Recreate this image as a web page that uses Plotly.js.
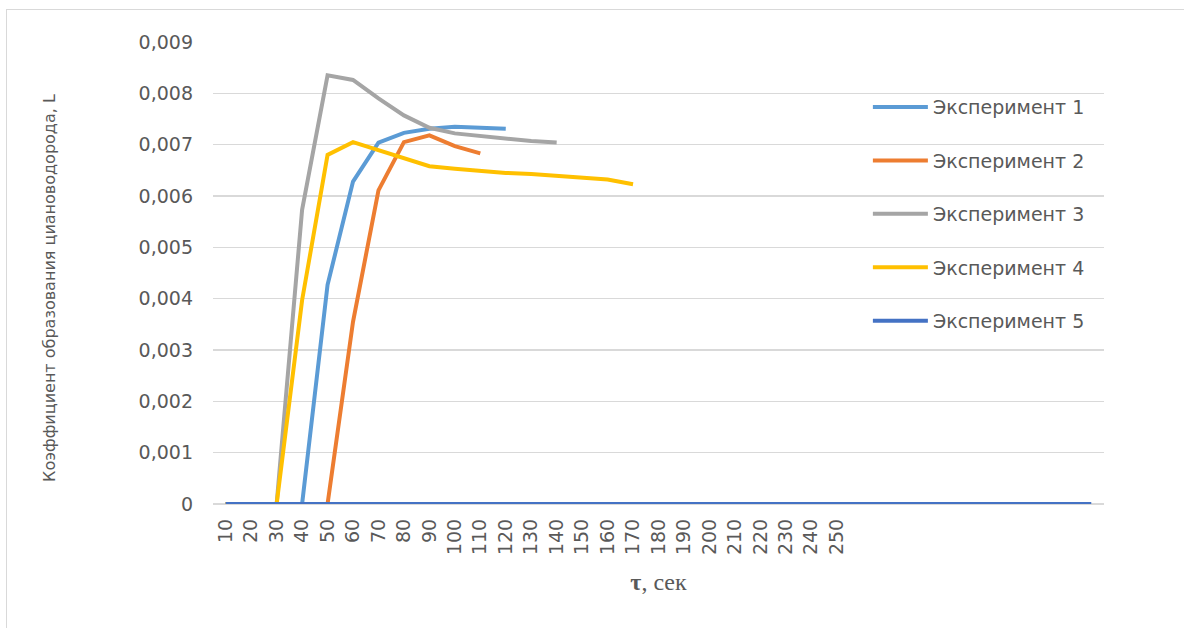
<!DOCTYPE html>
<html>
<head>
<meta charset="utf-8">
<script src="https://cdn.plot.ly/plotly-3.0.1.min.js"></script>
<style>
html,body{margin:0;padding:0;background:#fff;overflow:hidden;}
#wrap{position:relative;width:1184px;height:628px;}
#chart{position:absolute;left:0;top:0;width:1184px;height:628px;}
#frame{position:absolute;left:6px;top:9px;width:1300px;height:700px;border:1.5px solid #d9d9d9;pointer-events:none;}
</style>
</head>
<body>
<div id="wrap">
<div id="frame"></div>
<div id="chart"></div>
</div>
<script>
// Time categories, s
const timeCats = [10,20,30,40,50,60,70,80,90,100,110,120,130,140,150,160,170,180,190,200,210,220,230,240,250,260,270,280,290,300,310,320,330,340,350];
const tickVals = [10,20,30,40,50,60,70,80,90,100,110,120,130,140,150,160,170,180,190,200,210,220,230,240,250];
const tickLabels = ["10","20","30","40","50","60","70","80","90","100","110","120","130","140","150","160","170","180","190","200","210","220","230","240","250"];

const seriesNames = ["Эксперимент 1","Эксперимент 2","Эксперимент 3","Эксперимент 4","Эксперимент 5"];
const exp1 = [0,0,0,0,0.00427,0.00628,0.00704,0.00723,0.00731,0.00735,0.00733,0.00731];
const exp2 = [0,0,0,0,0,0.00355,0.00611,0.00705,0.00718,0.00697,0.00683];
const exp3 = [0,0,0,0.00573,0.00835,0.00826,0.00790,0.00757,0.00733,0.00722,0.00717,0.00712,0.00707,0.00704];
const exp4 = [0,0,0,0.00397,0.00680,0.00705,0.00689,0.00673,0.00658,0.00653,0.00649,0.00645,0.00643,0.00639,0.00636,0.00632,0.00623];
const exp5 = [0,0,0,0,0,0,0,0,0,0,0,0,0,0,0,0,0,0,0,0,0,0,0,0,0,0,0,0,0,0,0,0,0,0,0];

const yTickVals = [0,0.001,0.002,0.003,0.004,0.005,0.006,0.007,0.008,0.009];
const yTickLabels = ["0","0,001","0,002","0,003","0,004","0,005","0,006","0,007","0,008","0,009"];
const yTitle = 'Коэффициент образования циановодорода, L';
const xTitle = '<b>τ</b>, сек';

const colors = ["#5B9BD5","#ED7D31","#A5A5A5","#FFC000","#4472C4"];
const allSeries = [exp1,exp2,exp3,exp4,exp5];

const traces = allSeries.map((vals,i)=>({
  type:'scatter',
  mode:'lines',
  name:seriesNames[i],
  legendgroup:'g'+i,
  x:timeCats.slice(0,vals.length),
  y:vals,
  line:{color:colors[i],width:4,shape:'linear'},
  hoverinfo:'skip'
}));

const tickFont = {family:'"DejaVu Sans", sans-serif', size:19, color:'#595959'};

const layout = {
  width:1184, height:628,
  paper_bgcolor:'rgba(0,0,0,0)',
  plot_bgcolor:'rgba(0,0,0,0)',
  margin:{l:213, r:80, t:42, b:124},
  showlegend:true,
  legend:{
    x:0.735, xanchor:'left', y:0.90, yanchor:'top',
    font:{family:'"DejaVu Sans", sans-serif', size:19, color:'#595959'},
    traceorder:'grouped', tracegroupgap:25.7,
    bgcolor:'rgba(0,0,0,0)', itemwidth:55
  },
  xaxis:{
    type:'linear', range:[5,355],
    tickmode:'array', tickvals:tickVals, ticktext:tickLabels,
    tickangle:-90, tickfont:tickFont,
    showgrid:false, zeroline:false, showline:false, ticks:'',
    ticklabelstandoff:10,
    title:{text:xTitle, font:{family:'"Liberation Serif", serif', size:24, color:'#595959'}, standoff:19}
  },
  yaxis:{
    range:[0,0.009],
    tickmode:'array', tickvals:yTickVals, ticktext:yTickLabels,
    tickfont:tickFont,
    showgrid:true, gridcolor:'#D9D9D9', gridwidth:1.3,
    zeroline:true, zerolinecolor:'#D9D9D9', zerolinewidth:1.3,
    showline:false, ticks:'', ticklabelstandoff:19
  },
  annotations:[{
    text:yTitle, textangle:-90,
    xref:'paper', yref:'paper', x:-0.183, y:0.4676,
    xanchor:'center', yanchor:'middle', showarrow:false,
    font:{family:'"DejaVu Sans", sans-serif', size:16, color:'#595959'}
  }]
};

Plotly.newPlot('chart', traces, layout, {staticPlot:true, displayModeBar:false});
</script>
</body>
</html>
